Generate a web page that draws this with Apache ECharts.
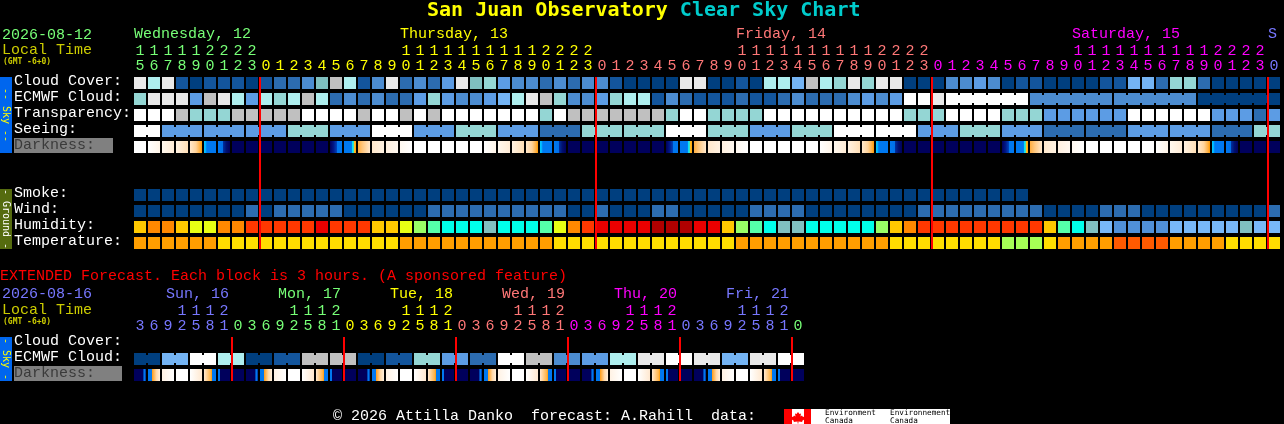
<!DOCTYPE html>
<html><head><meta charset="utf-8">
<style>html,body{margin:0;padding:0;background:#000}#c{width:1284px;height:424px}</style>
<script src="https://cdn.jsdelivr.net/npm/echarts@6/dist/echarts.min.js"></script>
</head><body><div id="c"></div>
<script>
const MONO='"Liberation Mono"';
const BOLDMONO='"DejaVu Sans Mono"';
// ---------- palettes ----------
const cloudPalette=['#003f7f','#13559c','#2c6cb0','#4c8cd0','#5c9ce4','#74b4f4','#7fbfbf','#94d6d4','#aeeeee','#c0c0c0','#e9e9e9','#ffffff'];
const humidityPalette=['#ffc800','#ff8800','#e8ff14','#ff3800','#ea0000','#b00000','#99ff66','#55ffaa','#00ffea','#80c0c0','#78b8f8','#5090d8'];
const temperaturePalette=['#ff9e00','#ffdd00','#a6ff55','#ff5a00'];
const darknessStops={
 W:[[0,'#ffffff'],[1,'#ffffff']],
 a:[[0,'#ffffff'],[1,'#fff5e8']],
 b:[[0,'#fff8ee'],[1,'#ffecd6']],
 c:[[0,'#fff2e2'],[1,'#ffdfb6']],
 d:[[0,'#ffe8cc'],[0.5,'#ffd39a'],[0.85,'#ffae3c'],[1,'#ff9a00']],
 e:[[0,'#00ccff'],[0.18,'#00aaff'],[0.22,'#0078f0'],[1,'#0078f0']],
 f:[[0,'#0078f0'],[0.4,'#0070e8'],[0.42,'#0030a0'],[0.7,'#001070'],[1,'#00005c']],
 N:[[0,'#00005c'],[1,'#00005c']],
 g:[[0,'#00005c'],[0.3,'#001888'],[0.55,'#0040b8'],[0.6,'#0078f0'],[1,'#0078f0']],
 h:[[0,'#0078f0'],[0.62,'#0078f0'],[0.68,'#00e0ff'],[0.8,'#40e0c0'],[0.86,'#ffc020'],[1,'#ffa010']],
 i:[[0,'#ffae40'],[0.4,'#ffc880'],[1,'#ffe8cc']],
 j:[[0,'#ffe8cc'],[1,'#fff2e2']],
 k:[[0,'#fff0e0'],[1,'#fff8f0']],
 l:[[0,'#fff8f0'],[1,'#ffffff']],
 p:[[0,'#00005c'],[0.78,'#00005c'],[0.8,'#0078f0'],[0.95,'#0078f0'],[0.97,'#00005c'],[1,'#00005c']],
 q:[[0,'#0078f0'],[0.32,'#0078f0'],[0.36,'#ffa020'],[0.7,'#ffd8a8'],[1,'#fff0dd']],
 r:[[0,'#fff2e4'],[1,'#ffffff']],
 t:[[0,'#ffffff'],[1,'#ffe8d0']],
 u:[[0,'#ffe8d0'],[0.58,'#ffb040'],[0.66,'#ff9a00'],[0.67,'#0078f0'],[1,'#0078f0']],
 v:[[0,'#0078f0'],[0.16,'#0078f0'],[0.2,'#00005c'],[1,'#00005c']]
};
// ---------- main forecast (1-hour columns) ----------
const hours=[15,16,17,18,19,20,21,22,23,
 0,1,2,3,4,5,6,7,8,9,10,11,12,13,14,15,16,17,18,19,20,21,22,23,
 0,1,2,3,4,5,6,7,8,9,10,11,12,13,14,15,16,17,18,19,20,21,22,23,
 0,1,2,3,4,5,6,7,8,9,10,11,12,13,14,15,16,17,18,19,20,21,22,23,0];
const rowLabels=['Cloud Cover:','ECMWF Cloud:','Transparency:','Seeing:','Darkness:','','','Smoke:','Wind:','Humidity:','Temperature:'];
const cloudCover=[10,8,10,1,0,1,1,1,0,1, 2,2,3,6,9,8,1,3,10,2, 3,2,4,10,6,7,4,3,3,2, 3,2,3,3,1,0,0,0,0,10, 10,0,0,1,0,8,8,5,9,8, 7,10,7,10,10,0,0,0,3,3, 4,3,0,1,1,0,0,0,0,1, 1,5,5,2,7,7,2,0,0,0, 0,0];
const ecmwfCloud=[7,10,10,10,4,9,10,8,4,8, 7,8,9,8,2,3,2,3,2,2, 4,7,4,3,3,4,5,8,10,9, 7,3,3,4,7,8,8,1,3,2, 1,1,1,2,1,1,2,3,2,2, 2,3,4,3,4,11,11,10,11,11, 11,11,11,11,3,3,3,3,3,3, 3,3,3,3,3,3,0,0,0,0, 0,0];
const transparency=[11,11,11,9,7,7,7,9,9,9, 9,9,11,11,11,11,9,11,11,9, 11,9,11,11,11,11,11,11,11,7, 11,9,9,9,9,9,9,9,7,11, 11,7,7,7,7,11,11,11,11,11, 11,11,11,11,11,7,7,7,11,11, 11,11,7,7,7,4,4,4,4,4, 4,11,11,11,11,11,11,4,4,4, 2,4];
const seeing=[11,11, 4,4,4, 4,4,4, 4,4,4, 7,7,7, 4,4,4, 11,11,11, 4,4,4, 7,7,7, 4,4,4, 2,2,2, 7,7,7, 7,7,7, 11,11,11, 7,7,7, 4,4,4, 7,7,7, 11,11,11, 11,11,11, 4,4,4, 7,7,7, 4,4,4, 2,2,2, 2,2,2, 4,4,4, 4,4,4, 2,2,2, 7,7];
const darkness=['W', 'a','b','c','d','e','f','N','N','N','N','N','N','N','g','h','i','j','k','l','W','W','W','W','W',
 'a','b','c','d','e','f','N','N','N','N','N','N','N','g','h','i','j','k','l','W','W','W','W','W',
 'a','b','c','d','e','f','N','N','N','N','N','N','N','g','h','i','j','k','l','W','W','W','W','W',
 'a','b','c','d','e','f','N','N','N'];
const smoke=[0,0,0,0,0,0,0,0,0,0, 0,0,0,0,0,0,0,0,0,0, 0,0,0,0,0,0,0,0,0,0, 0,0,0,0,0,0,0,0,0,0, 0,0,0,0,0,0,0,0,0,0, 0,0,0,0,0,0,0,0,0,0, 0,0,0,0,null,null,null,null,null,null, null,null,null,null,null,null,null,null,null,null, null,null];
const wind=[0,0,0,0,0,0,0,0,2,0, 2,2,2,2,2,0,0,0,0,0, 0,2,2,2,2,2,2,2,2,2, 2,0,0,2,0,0,0,2,2,0, 0,0,0,0,2,2,2,2,0,0, 0,0,0,0,0,0,2,2,2,2, 2,2,2,2,2,0,0,0,0,2, 2,2,0,0,0,0,0,0,0,0, 0,2];
const humidity=[0,1,1,0,2,2,1,1,3,3, 3,3,3,4,3,3,3,0,0,2, 6,7,8,8,8,9,8,8,8,7, 2,1,3,4,4,4,4,5,5,5, 4,4,0,6,7,8,9,9,8,8, 8,8,8,6,0,1,3,3,3,3, 3,3,3,3,3,0,7,8,9,10, 11,11,11,11,10,10,10,10,10,9, 10,10];
const temperature=[0,0,0,0,0,0,1,1,1,1, 1,1,1,1,1,1,1,1,1,0, 0,0,0,0,0,0,0,0,0,0, 1,1,1,1,1,1,1,1,1,1, 1,1,1,0,0,0,0,0,0,0, 0,0,0,0,1,1,1,1,1,1, 1,1,2,2,2,1,0,0,0,0, 3,3,3,3,0,0,0,0,1,1, 1,1];
const midnightCols=[9,33,57,81];
const dayLabels=['Wednesday, 12','Thursday, 13','Friday, 14','Saturday, 15','S'];
const dayLabelCols=[0,19,43,67,81];
const dayColors=['#77ff77','#ffff00','#ff7777','#ff00ff','#7777ff'];
// ---------- extended forecast (3-hour columns) ----------
const extHours=[3,6,9,12,15,18,21,
 0,3,6,9,12,15,18,21, 0,3,6,9,12,15,18,21, 0,3,6,9,12,15,18,21, 0,3,6,9,12,15,18,21, 0,3,6,9,12,15,18,21, 0];
const extRowLabels=['Cloud Cover:','ECMWF Cloud:','Darkness:'];
const extEcmwf=[0,0,5,5,11,11,8,8,0,0,1,1,9,9,9,9,0,0,1,1,7,7,4,4,2,2,11,11,9,9,3,3,4,4,8,8,10,10,11,11,10,10,5,5,10,10,11,11];
const extDarkness=['p','q','r','W','t','u','v','N','p','q','r','W','t','u','v','N','p','q','r','W','t','u','v','N','p','q','r','W','t','u','v','N','p','q','r','W','t','u','v','N','p','q','r','W','t','u','v','N'];
const extMidnightCols=[7,15,23,31,39,47];
const extDayLabels=['Sun, 16','Mon, 17','Tue, 18','Wed, 19','Thu, 20','Fri, 21'];
const extDayLabelCols=[3,11,19,27,35,43];
const extDayColors=['#7777ff','#77ff77','#ffff00','#ff7777','#ff00ff','#7777ff'];
const extColorBreaks=[0,7,15,23,31,39,47];
const extBreakColors=['#7777ff','#77ff77','#ffff00','#ff7777','#ff00ff','#7777ff','#77ff77'];
const mainColorBreaks=[0,9,33,57,81];

function colorAt(i,breaks,colors){let c=colors[0];breaks.forEach((b,k)=>{if(i>=b)c=colors[k]});return c}
function ones(a){return a.map(h=>String(h%10))}
function tens(a){return a.map(h=>h>=10?String(Math.floor(h/10)):'')}

// cells
function cellSeries(name,values,row,palette,gi,bridge){
  const data=[];
  values.forEach((v,c)=>{if(v!==null)data.push([c,row,v,bridge&&c<values.length-1&&bridge(c)?1:0])});
  return {name,type:'custom',xAxisIndex:gi*2,yAxisIndex:gi,data,encode:{x:0,y:1},z:2,silent:true,
    renderItem(params,api){
      const p=api.coord([api.value(0),api.value(1)]),s=api.size([1,1]);
      const x=p[0]-s[0]/2+1,y=p[1]-s[1]/2+2,w=s[0]-2,h=s[1]-4;
      const fill=palette[api.value(2)];
      const kids=[{type:'rect',shape:{x,y,width:w,height:h},style:{fill}}];
      if(api.value(3))kids.push({type:'rect',shape:{x:x+w,y:y+2,width:2,height:h-4},style:{fill}});
      return {type:'group',children:kids};
    }};
}
function gradientSeries(name,values,row,gi){
  return {name,type:'custom',xAxisIndex:gi*2,yAxisIndex:gi,data:values.map((v,c)=>[c,row,Object.keys(darknessStops).indexOf(v)]),
    encode:{x:0,y:1},z:2,silent:true,
    renderItem(params,api){
      const p=api.coord([api.value(0),api.value(1)]),s=api.size([1,1]);
      const key=Object.keys(darknessStops)[api.value(2)];
      const fill=new echarts.graphic.LinearGradient(0,0,1,0,darknessStops[key].map(q=>({offset:q[0],color:q[1]})));
      return {type:'rect',shape:{x:p[0]-s[0]/2+1,y:p[1]-s[1]/2+2,width:s[0]-2,height:s[1]-4},style:{fill}};
    }};
}
function redSeries(cols,gi){
  return {name:'Midnight',type:'custom',xAxisIndex:gi*2,yAxisIndex:gi,data:cols.map(c=>[c,0]),encode:{x:0,y:1},z:5,silent:true,
    renderItem(params,api){
      const p=api.coord([api.value(0),0]),s=api.size([1,1]);
      return {type:'rect',shape:{x:p[0]-s[0]/2,y:params.coordSys.y+2,width:2,height:params.coordSys.height-4},style:{fill:'#ff0000'}};
    }};
}
function dayLabelSeries(cols,labels,colors,gi,shift){
  return {name:'Days',type:'custom',xAxisIndex:gi*2,yAxisIndex:gi,data:cols.map((c,i)=>[c,0,i]),encode:{x:0,y:1},z:3,silent:true,
    renderItem(params,api){
      const p=api.coord([api.value(0),0]),s=api.size([1,1]),i=api.value(2);
      return {type:'text',style:{x:p[0]-s[0]/2+shift,y:params.coordSys.y-41,text:labels[i],fill:colors[i],
        font:'15px '+MONO,textAlign:'left',textVerticalAlign:'middle',textBaseline:'middle'}};
    }};
}
function hourAxis(labels,gi,offset,breaks,colors,margin){
  return {type:'category',gridIndex:gi,position:'top',offset,data:labels,boundaryGap:true,
    axisLine:{show:false},axisTick:{show:false},splitLine:{show:false},
    axisLabel:{show:true,interval:0,margin,verticalAlign:'middle',hideOverlap:false,fontFamily:MONO,fontSize:15,
      color:(v,i)=>colorAt(i,breaks,colors)}};
}
function rowAxis(labels,gi,darkW){
  return {type:'category',gridIndex:gi,inverse:true,data:labels,
    axisLine:{show:false},axisTick:{show:false},splitLine:{show:false},
    axisLabel:{show:true,interval:0,align:'left',margin:119,color:'#ffffff',fontFamily:MONO,fontSize:15,
      padding:[0,0,3,0],
      formatter:v=>v==='Darkness:'?'{d|Darkness:}':v,
      rich:{d:{backgroundColor:'#808080',color:'#3a3a3a',width:darkW,height:15,lineHeight:15,fontFamily:MONO,fontSize:15,align:'left'}}}};
}
function txt(x,y,text,fill,font,extra){
  return Object.assign({type:'text',silent:true,x,y,style:{text,fill,font:font||('15px '+MONO),textVerticalAlign:'middle',textBaseline:'middle'}},extra||{});
}
function box(x,y,w,h,fill){return {type:'rect',silent:true,shape:{x,y,width:w,height:h},style:{fill}}}
function vtext(cx,cy,text,fill){
  return {type:'text',silent:true,x:cx,y:cy,rotation:-Math.PI/2,style:{text,fill,font:'10px '+BOLDMONO,textAlign:'center',textVerticalAlign:'middle',textBaseline:'middle'}};
}
const leaf=[[798,412],[799.5,414],[801,413.5],[800.5,416.5],[802,415.5],[803,417],[804.5,416.5],[804,418.5],[805,419],[802,421],[802.5,422],[798.4,421.6],[798.4,423.5],[797.6,423.5],[797.6,421.6],[793.5,422],[794,421],[791,419],[792,418.5],[791.5,416.5],[793,417],[794,415.5],[795.5,416.5],[795,413.5],[796.5,414]];

const sB=i=>(i+1-2)%3!==0;           // seeing is in 3-hour blocks
const eB=c=>c>=58&&(c+1-58)%6!==0;   // ECMWF long range is in 6-hour blocks
const xB=c=>c%2===0;                 // extended blocks join in pairs

const option={
  backgroundColor:'#000000',animation:false,
  title:{left:427,top:1,padding:0,text:'{a|San Juan Observatory }{b|Clear Sky Chart}',
    textStyle:{rich:{a:{color:'#ffff00',fontFamily:BOLDMONO,fontWeight:'bold',fontSize:20},b:{color:'#00cccc',fontFamily:BOLDMONO,fontWeight:'bold',fontSize:20}}}},
  grid:[{left:133,top:75,width:1148,height:176},{left:133,top:335,width:672,height:48}],
  xAxis:[
    hourAxis(ones(hours),0,0,mainColorBreaks,dayColors,9),
    hourAxis(tens(hours),0,15,mainColorBreaks,dayColors,9),
    hourAxis(ones(extHours),1,0,extColorBreaks,extBreakColors,9),
    hourAxis(tens(extHours),1,15,extColorBreaks,extBreakColors,9)
  ],
  yAxis:[rowAxis(rowLabels,0,99),rowAxis(extRowLabels,1,108)],
  series:[
    cellSeries('Cloud Cover',cloudCover,0,cloudPalette,0),
    cellSeries('ECMWF Cloud',ecmwfCloud,1,cloudPalette,0,eB),
    cellSeries('Transparency',transparency,2,cloudPalette,0),
    cellSeries('Seeing',seeing,3,cloudPalette,0,sB),
    gradientSeries('Darkness',darkness,4,0),
    cellSeries('Smoke',smoke,7,cloudPalette,0),
    cellSeries('Wind',wind,8,cloudPalette,0),
    cellSeries('Humidity',humidity,9,humidityPalette,0),
    cellSeries('Temperature',temperature,10,temperaturePalette,0),
    redSeries(midnightCols,0),
    dayLabelSeries(dayLabelCols,dayLabels,dayColors,0,1),
    cellSeries('Extended ECMWF Cloud',extEcmwf,1,cloudPalette,1,xB),
    gradientSeries('Extended Darkness',extDarkness,2,1),
    redSeries(extMidnightCols,1),
    dayLabelSeries(extDayLabelCols,extDayLabels,extDayColors,1,-9)
  ],
  graphic:{elements:[
    txt(2,35,'2026-08-12','#77ff77'),
    txt(2,50,'Local Time','#cccc00'),
    txt(3,62,'(GMT -6+0)','#cccc00','bold 8px '+BOLDMONO),
    box(0,77,12,76,'#0066ee'),
    vtext(6,115,'-- Sky --','#ffff00'),
    box(0,189,12,60,'#556b0f'),
    vtext(6,219,'- Ground -','#ffffff'),
    txt(0,276,'EXTENDED Forecast. Each block is 3 hours. (A sponsored feature)','#ff0000'),
    txt(2,294,'2026-08-16','#7777ff'),
    txt(2,310,'Local Time','#cccc00'),
    txt(3,322,'(GMT -6+0)','#cccc00','bold 8px '+BOLDMONO),
    box(0,337,12,44,'#0066ee'),
    vtext(6,359,'- Sky -','#ffff00'),
    txt(333,416,'\u00a9 2026 Attilla Danko  forecast: A.Rahill  data:','#ffffff'),
    box(784,409,166,15,'#ffffff'),
    box(784,409,8,15,'#ff0000'),
    box(804,409,7,15,'#ff0000'),
    {type:'polygon',silent:true,shape:{points:leaf},style:{fill:'#ff0000'}},
    txt(825,413,'Environment','#000000','7.7px '+BOLDMONO),
    txt(825,421,'Canada','#000000','7.7px '+BOLDMONO),
    txt(890,413,'Environnement','#000000','7.7px '+BOLDMONO),
    txt(890,421,'Canada','#000000','7.7px '+BOLDMONO)
  ]}
};
const chart=echarts.init(document.getElementById('c'),null,{renderer:'canvas',width:1284,height:424});
chart.setOption(option);
</script></body></html>
